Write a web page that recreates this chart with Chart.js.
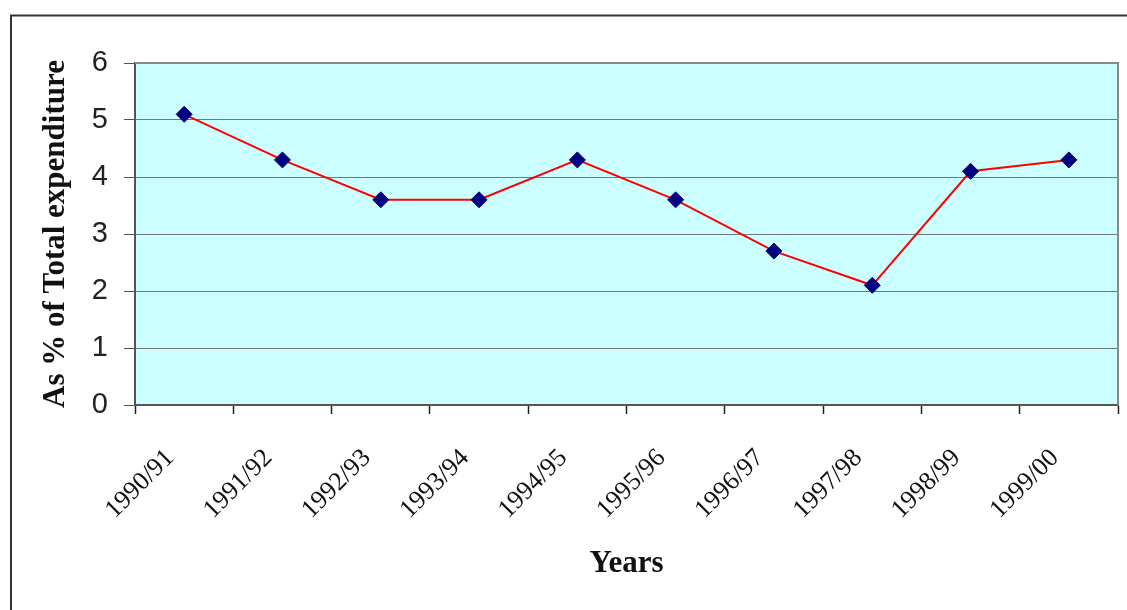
<!DOCTYPE html>
<html>
<head>
<meta charset="utf-8">
<script src="https://cdn.jsdelivr.net/npm/chart.js@4/dist/chart.umd.min.js"></script>
<style>
  html, body { margin: 0; padding: 0; background: #ffffff; }
  #wrap { width: 1127px; height: 610px; position: relative; }
</style>
</head>
<body>
<div id="wrap"><canvas id="c" width="1127" height="610"></canvas></div>
<script>
const categories = ['1990/91','1991/92','1992/93','1993/94','1994/95','1995/96','1996/97','1997/98','1998/99','1999/00'];
const expenditureShare = [5.1, 4.3, 3.6, 3.6, 4.3, 3.6, 2.7, 2.1, 4.1, 4.3];
const yTicks = [0, 1, 2, 3, 4, 5, 6];
const xTitle = 'Years';
const yTitle = 'As % of Total expenditure';

const framePlugin = {
  id: 'frame',
  beforeDraw(chart) {
    const ctx = chart.ctx;
    const a = chart.chartArea;
    ctx.save();
    ctx.fillStyle = '#ffffff';
    ctx.fillRect(0, 0, chart.width, chart.height);
    ctx.fillStyle = '#CCFFFF';
    ctx.fillRect(a.left, a.top, a.right - a.left, a.bottom - a.top);
    ctx.strokeStyle = '#333333';
    ctx.lineWidth = 2;
    ctx.beginPath();
    ctx.moveTo(11, chart.height);
    ctx.lineTo(11, 15.5);
    ctx.lineTo(chart.width, 15.5);
    ctx.stroke();
    ctx.restore();
  },
  beforeDatasetsDraw(chart) {
    const ctx = chart.ctx;
    const a = chart.chartArea;
    ctx.save();
    ctx.strokeStyle = '#888888';
    ctx.lineWidth = 2;
    ctx.beginPath();
    ctx.moveTo(a.left, a.top);
    ctx.lineTo(a.right, a.top);
    ctx.lineTo(a.right, a.bottom);
    ctx.stroke();
    ctx.restore();
  }
};

new Chart(document.getElementById('c'), {
  type: 'line',
  data: {
    labels: categories,
    datasets: [{
      data: expenditureShare,
      borderColor: '#FF0000',
      borderWidth: 2,
      pointStyle: 'rectRot',
      pointRadius: 8,
      pointHoverRadius: 8,
      pointBackgroundColor: '#000080',
      pointBorderColor: '#000080',
      pointBorderWidth: 1,
      tension: 0,
      fill: false
    }]
  },
  options: {
    responsive: false,
    animation: false,
    devicePixelRatio: 1,
    layout: { padding: { left: 0, right: 9, top: 63, bottom: 0 } },
    plugins: { legend: { display: false }, tooltip: { enabled: false }, title: { display: false } },
    scales: {
      x: {
        type: 'category',
        offset: true,
        afterFit(scale) { scale.height = 205; },
        grid: {
          offset: true,
          drawOnChartArea: false,
          drawTicks: true,
          tickLength: 9,
          tickColor: '#222222',
          tickWidth: 1.5
        },
        border: { display: true, color: '#555555', width: 2 },
        ticks: {
          autoSkip: false,
          minRotation: 45,
          maxRotation: 45,
          padding: 29,
          labelOffset: -14,
          color: '#111111',
          font: { family: '"Liberation Serif", "Times New Roman", serif', size: 26 }
        },
        title: {
          display: true,
          text: xTitle,
          color: '#111111',
          font: { family: '"Liberation Serif", "Times New Roman", serif', size: 31, weight: 'bold', lineHeight: 1 },
          padding: { top: 0, bottom: 31 }
        }
      },
      y: {
        min: 0,
        max: 6,
        afterFit(scale) { scale.width = 135; },
        afterBuildTicks(scale) { scale.ticks = yTicks.map(v => ({ value: v })); },
        grid: {
          color: '#707a7a',
          lineWidth: 1,
          drawTicks: true,
          tickLength: 11,
          tickColor: '#555555'
        },
        border: { display: true, color: '#555555', width: 2 },
        ticks: {
          padding: 16,
          color: '#222222',
          font: { family: '"Liberation Sans", Arial, sans-serif', size: 29 }
        },
        title: {
          display: true,
          text: yTitle,
          color: '#111111',
          font: { family: '"Liberation Serif", "Times New Roman", serif', size: 31, weight: 'bold', lineHeight: 1 },
          padding: { top: 40, bottom: 0 }
        }
      }
    }
  },
  plugins: [framePlugin]
});
</script>
</body>
</html>
